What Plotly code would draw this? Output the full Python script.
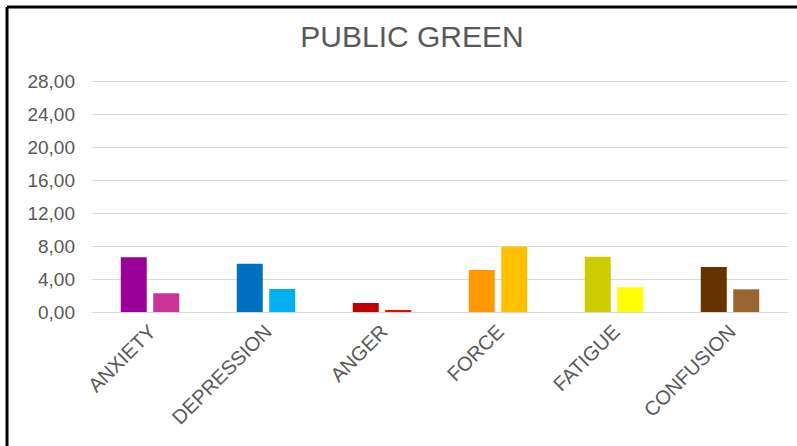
import plotly.graph_objects as go

# Mood profile scores (two measurements per dimension)
categories = ["ANXIETY", "DEPRESSION", "ANGER", "FORCE", "FATIGUE", "CONFUSION"]
values_first = [6.64, 5.86, 1.09, 5.10, 6.71, 5.46]
values_second = [2.27, 2.79, 0.24, 7.93, 3.00, 2.75]
colors_first = ["#990099", "#0070C0", "#C00000", "#FF9900", "#CCCC00", "#663300"]
colors_second = ["#CC3399", "#00B0F0", "#FF0000", "#FFC000", "#FFFF00", "#996633"]
y_ticks = [0, 4, 8, 12, 16, 20, 24, 28]
y_tick_text = ["0,00", "4,00", "8,00", "12,00", "16,00", "20,00", "24,00", "28,00"]

W, H = 797, 446
M_L, M_R, M_T, M_B = 92, 9, 80, 134
PLOT_W = W - M_L - M_R
PLOT_H = H - M_T - M_B

font_family = "Liberation Sans, Arial, sans-serif"
grey = "#595959"

fig = go.Figure()
fig.add_trace(go.Bar(x=categories, y=values_first,
                     marker=dict(color=colors_first, line=dict(width=0)),
                     showlegend=False, hoverinfo="x+y"))
fig.add_trace(go.Bar(x=categories, y=values_second,
                     marker=dict(color=colors_second, line=dict(width=0)),
                     showlegend=False, hoverinfo="x+y"))


def px_x(p):
    return (p - M_L) / PLOT_W


def px_y(p):
    return 1 - (p - M_T) / PLOT_H


# black frame along the top and left edges
fig.add_shape(type="line", xref="paper", yref="paper",
              x0=px_x(7), x1=px_x(W + 5), y0=px_y(7), y1=px_y(7),
              line=dict(color="black", width=3))
fig.add_shape(type="line", xref="paper", yref="paper",
              x0=px_x(7), x1=px_x(7), y0=px_y(7), y1=px_y(H + 5),
              line=dict(color="black", width=3))

fig.update_layout(
    width=W, height=H,
    margin=dict(l=M_L, r=M_R, t=M_T, b=M_B),
    paper_bgcolor="white", plot_bgcolor="white",
    barmode="group", bargap=0.44, bargroupgap=0.2,
    font=dict(family=font_family, color=grey),
    title=dict(text="PUBLIC GREEN", x=412 / W, xanchor="center",
               xref="container", yref="container",
               y=1 - 36 / H, yanchor="middle",
               font=dict(size=30, color=grey, family=font_family)),
    xaxis=dict(tickangle=-45, tickfont=dict(size=20, color=grey),
               showgrid=False, showline=False, ticks="",
               ticklabelstandoff=3, fixedrange=True),
    yaxis=dict(range=[0, 28.15], tickvals=y_ticks, ticktext=y_tick_text,
               tickfont=dict(size=19, color=grey),
               showgrid=True, gridcolor="#D9D9D9", gridwidth=1,
               zeroline=True, zerolinecolor="#D9D9D9", zerolinewidth=1,
               showline=False, ticks="", ticklabelstandoff=16,
               fixedrange=True),
)

fig.write_html("out.html")
